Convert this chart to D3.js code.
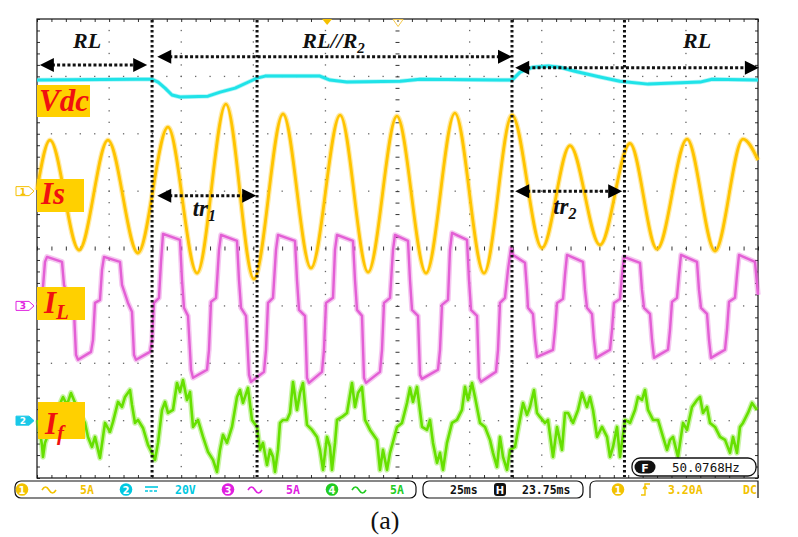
<!DOCTYPE html>
<html><head><meta charset="utf-8">
<script src="https://cdn.jsdelivr.net/npm/d3@7"></script>
<style>body{margin:0;background:#fff}svg{display:block}</style>
</head><body><svg id="c" width="798" height="537"></svg>
<script>
// ---- data: time in ms (25 ms/div), values in channel units ----
const timeDomain = [0, 250];
const divDomain = [-4, 4];

// Vdc (CH2, 20 V/div, ground at -3 div)
const vdcData = [[0,118.7],[34.0,119.0],[39.9,119.0],[42.0,118.0],[44.4,115.9],[46.8,113.5],[49.6,112.8],[59.3,113.1],[63.5,114.5],[68.7,115.9],[73.9,118.3],[76.3,119.4],[79.1,120.1],[98.1,120.1],[101.6,118.7],[107.5,118.0],[125.9,118.3],[132.8,119.0],[160.5,118.7],[164.7,118.7],[167.5,121.5],[172.0,123.2],[177.2,123.6],[181.3,123.2],[186.5,121.8],[195.2,119.8],[202.1,118.3],[211.9,117.3],[229.9,118.0],[234.1,119.0],[250,118.7]];

// Is (CH1, 5 A/div, ground at +1 div) - extremes of the source current
const isData = [[0,0.10],[4.5,4.45],[14.6,-5.13],[24.6,4.45],[35.0,-5.39],[45.4,5.58],[55.5,-7.14],[65.5,7.59],[75.2,-7.66],[85.3,6.72],[95.0,-6.71],[105.1,6.63],[114.8,-7.06],[124.8,6.54],[134.9,-7.14],[144.9,6.80],[155.0,-7.14],[164.7,6.63],[175.1,-4.96],[184.8,3.97],[195.2,-4.69],[205.6,4.15],[215.0,-5.05],[225.4,4.54],[235.1,-5.22],[244.8,4.54],[250,2.71]];

// IL (CH3, 5 A/div, ground at -1 div)
const ilData = [[0,0.09],[1.73,0.52],[2.77,3.83],[3.47,4.27],[8.67,3.83],[9.36,1.83],[11.44,0.26],[12.83,-0.52],[13.52,-4.27],[14.22,-4.70],[18.72,-4.01],[19.42,-2.96],[20.11,0.26],[21.84,0.52],[22.54,3.14],[23.23,4.27],[28.78,3.83],[29.47,1.83],[31.55,0.26],[32.94,-0.52],[33.63,-4.27],[34.33,-4.70],[39.18,-4.01],[39.88,-2.96],[40.57,0.26],[42.30,0.70],[43.00,3.83],[43.69,6.27],[49.58,5.75],[50.28,2.26],[50.97,-0.17],[52.36,-0.87],[53.40,-5.57],[54.09,-6.27],[58.95,-5.57],[59.64,-3.83],[60.33,0.35],[62.07,0.70],[63.11,4.88],[63.80,6.18],[69.35,5.66],[70.04,2.26],[70.74,-0.17],[72.47,-0.87],[73.51,-6.01],[74.20,-6.62],[78.71,-5.75],[79.40,-3.83],[80.10,0.26],[81.83,0.70],[82.87,4.88],[83.56,6.18],[89.46,5.66],[90.15,2.26],[90.85,-0.35],[92.93,-0.87],[93.62,-6.27],[94.31,-6.71],[98.82,-5.75],[99.51,-3.83],[100.21,0.26],[102.64,0.70],[103.33,4.88],[104.02,6.18],[109.57,5.66],[110.26,2.26],[110.96,-0.35],[112.69,-0.87],[113.38,-6.27],[114.08,-6.71],[118.93,-5.75],[119.63,-3.83],[120.32,0.26],[122.40,0.70],[123.44,4.88],[124.13,6.18],[128.64,5.66],[129.33,2.26],[130.03,-0.35],[132.11,-0.87],[132.80,-6.01],[133.50,-6.36],[139.04,-5.57],[139.74,-3.83],[140.43,0.09],[142.51,0.52],[143.20,4.88],[143.90,6.36],[149.10,5.75],[149.79,2.26],[150.49,-0.35],[152.57,-0.87],[153.26,-6.27],[153.95,-6.62],[159.15,-5.75],[159.85,-3.83],[160.54,0.26],[162.27,0.70],[163.31,3.14],[164.36,5.05],[165.05,4.44],[169.21,3.75],[169.90,1.39],[170.25,-0.17],[171.98,-0.70],[172.68,-2.96],[173.37,-4.44],[178.92,-3.83],[179.61,-2.09],[180.31,0.26],[182.39,0.61],[183.08,2.70],[183.77,4.44],[189.32,3.83],[190.01,1.39],[190.71,-0.17],[192.44,-0.70],[193.13,-2.96],[193.83,-4.53],[198.68,-3.83],[199.38,-2.09],[200.07,0.26],[202.15,0.61],[202.84,2.70],[203.54,4.27],[209.08,3.75],[209.78,1.39],[210.47,-0.17],[212.55,-0.70],[213.25,-2.96],[213.94,-4.53],[218.79,-3.83],[219.49,-2.09],[220.18,0.35],[221.91,0.70],[222.61,2.70],[223.30,4.44],[228.85,3.83],[229.54,1.39],[230.24,-0.17],[232.32,-0.70],[233.01,-2.96],[233.70,-4.53],[238.56,-3.83],[239.25,-2.09],[239.94,0.35],[242.02,0.70],[242.72,2.70],[243.41,4.44],[248.96,3.83],[250.0,0.96]];

// If (CH4, 5 A/div, ground at -3 div)
const ifData = [[0.35,0.06],[1.73,-2.12],[2.08,-3.16],[2.77,-1.94],[4.51,-0.81],[6.24,0.50],[9.02,2.06],[10.40,1.37],[11.79,2.41],[14.22,0.93],[16.64,-0.20],[17.68,-1.42],[19.07,-2.29],[20.11,-1.42],[21.84,-3.25],[22.88,-1.42],[23.58,-0.20],[25.31,-0.98],[26.35,-0.11],[28.09,1.63],[29.47,1.19],[30.51,2.06],[32.25,2.67],[32.94,1.37],[33.98,-0.20],[35.02,0.06],[36.75,-0.64],[38.49,-2.12],[39.88,-2.81],[40.92,-3.42],[41.96,-1.94],[43.34,0.93],[44.38,1.63],[45.42,0.67],[47.16,0.93],[48.54,3.28],[49.58,2.50],[50.62,3.54],[52.01,1.80],[53.05,2.50],[54.09,-0.55],[55.82,0.06],[57.56,-1.42],[59.29,-2.72],[61.03,-3.42],[62.41,-4.47],[63.45,-2.55],[64.49,-1.24],[65.88,-1.94],[67.61,-0.55],[69.35,2.06],[70.39,2.67],[71.43,1.54],[73.16,2.85],[74.55,0.06],[76.28,-0.55],[77.32,-2.55],[78.36,-1.94],[79.75,-3.86],[80.79,-2.55],[81.83,-3.16],[82.52,-4.47],[83.56,-2.55],[84.26,-0.20],[85.30,0.06],[86.68,0.06],[87.72,0.67],[88.77,3.37],[90.15,0.93],[91.19,2.41],[92.23,3.28],[93.62,-0.37],[95.35,-0.81],[97.09,-1.42],[98.13,-2.55],[99.17,-4.29],[100.55,-1.42],[101.59,-2.29],[102.29,-4.29],[103.33,-1.94],[104.02,0.06],[105.76,0.32],[107.49,0.67],[109.22,3.28],[110.26,1.19],[111.30,2.41],[112.69,2.94],[113.73,0.06],[115.47,-0.81],[117.89,-1.68],[118.93,-4.29],[119.97,-2.55],[121.36,-4.29],[122.40,-2.81],[123.44,-1.86],[124.83,-0.55],[126.56,-0.20],[128.30,1.54],[129.33,2.85],[130.37,1.63],[131.76,2.94],[133.50,-0.55],[135.23,-0.81],[136.27,0.06],[137.31,-1.94],[138.70,-3.68],[139.74,-2.81],[140.78,-4.29],[142.16,-1.94],[143.90,-0.20],[145.63,0.06],[147.36,0.93],[148.40,2.94],[149.44,1.80],[150.83,3.28],[151.87,2.06],[153.61,-0.20],[155.34,-0.55],[157.07,-1.68],[158.11,-2.81],[159.50,-4.03],[160.54,-1.42],[161.58,-3.16],[162.97,-4.29],[164.01,-2.55],[165.74,-2.29],[166.78,-0.81],[168.52,1.54],[169.90,0.50],[170.94,1.19],[172.33,2.67],[173.37,0.67],[174.41,0.32],[176.14,-0.20],[177.18,0.06],[178.92,-3.16],[180.31,-0.55],[182.04,-2.55],[183.08,0.67],[184.12,0.67],[185.85,-0.20],[187.59,0.93],[188.97,2.41],[190.71,1.19],[191.75,2.06],[192.79,0.93],[194.18,-1.42],[195.91,-0.55],[197.64,-1.42],[198.68,-3.16],[199.72,-2.29],[201.11,-0.55],[202.15,-3.16],[203.88,0.06],[205.62,-0.20],[207.35,0.93],[208.39,2.06],[209.78,1.80],[210.82,2.67],[211.86,0.93],[213.59,0.06],[215.33,0.06],[217.06,-1.42],[218.45,-2.55],[219.49,-1.68],[220.53,-1.42],[222.26,-3.16],[224.00,-0.20],[225.38,-0.81],[227.12,1.19],[228.85,1.80],[229.89,2.06],[230.93,0.67],[232.32,1.19],[233.36,-0.20],[235.09,-0.55],[236.83,-1.42],[238.57,-1.68],[240.29,-2.81],[241.33,-1.42],[242.72,-2.81],[243.76,-0.55],[244.80,-0.20],[246.53,0.67],[247.92,1.54],[249.65,0.93]];

// annotation data
const eventTimes = [39.9, 76.3, 164.7, 203.7];          // dotted vertical markers (ms)
const regionLabels = [{text:"RL", t:12.5}, {text:"RL//R", sub:"2", t:92}, {text:"RL", t:224}];
const spanArrows = [{t0:1.0, t1:38.2, y:3.2}, {t0:41.7, t1:164.7, y:3.34}, {t0:165.8, t1:250.3, y:3.15}];
const trArrows = [{t0:41.7, t1:76.0, div:0.92, label:"tr", sub:"1", lt:54.0, ly:0.56},
                  {t0:165.8, t1:202.9, div:1.0, label:"tr", sub:"2", lt:179.0, ly:0.61}];
const statusItems1 = [
  {ch:"1", col:"#F2C200", cpl:"ac", scale:"5A"},
  {ch:"2", col:"#00C8E0", cpl:"dc", scale:"20V"},
  {ch:"3", col:"#E020E0", cpl:"ac", scale:"5A"},
  {ch:"4", col:"#22CC22", cpl:"ac", scale:"5A"}];
const timebase = "25ms", hpos = "23.75ms", trigLevel = "3.20A", trigCpl = "DC", freq = "50.0768Hz";

// ---- drawing ----
const svg = d3.select("#c");
const L = 37, R = 758, T = 19, B = 478;
const x = d3.scaleLinear().domain(timeDomain).range([L, R]);
const yDiv = d3.scaleLinear().domain(divDomain).range([B, T]);
const chY = {
  is: v => yDiv(1 + v / 5),
  il: v => yDiv(-1 + v / 5),
  iff: v => yDiv(-3 + v / 5),
  vdc: v => yDiv(-3 + v / 20)
};

// grid dots
const g = svg.append("g");
const minorT = d3.range(0, 250.01, 5);
const minorD = d3.range(-4, 4.001, 0.2);
for (let k = 1; k < 10; k++) {
  if (k === 5) continue;
  g.selectAll(null).data(minorD.slice(1, -1)).enter().append("rect")
    .attr("x", x(k * 25) - 0.6).attr("y", d => yDiv(d) - 0.6).attr("width", 1.3).attr("height", 1.3).attr("fill", "#666");
}
for (let k = -3; k <= 3; k++) {
  if (k === 0) continue;
  g.selectAll(null).data(minorT.slice(1, -1)).enter().append("rect")
    .attr("x", d => x(d) - 0.6).attr("y", yDiv(k) - 0.6).attr("width", 1.3).attr("height", 1.3).attr("fill", "#666");
}
// frame ticks via axes
const tickStyle = sel => { sel.select(".domain").remove(); sel.selectAll("line").attr("stroke", "#333"); };
g.append("g").attr("transform", `translate(0,${T})`).call(d3.axisBottom(x).tickValues(minorT).tickSize(3).tickFormat("")).call(tickStyle);
g.append("g").attr("transform", `translate(0,${B})`).call(d3.axisTop(x).tickValues(minorT).tickSize(3).tickFormat("")).call(tickStyle);
g.append("g").attr("transform", `translate(${L},0)`).call(d3.axisRight(yDiv).tickValues(minorD).tickSize(3).tickFormat("")).call(tickStyle);
g.append("g").attr("transform", `translate(${R},0)`).call(d3.axisLeft(yDiv).tickValues(minorD).tickSize(3).tickFormat("")).call(tickStyle);
// center cross ticks
g.append("g").attr("transform", `translate(0,${yDiv(0) - 2})`).call(d3.axisBottom(x).tickValues(minorT).tickSize(4).tickFormat("")).call(tickStyle);
g.append("g").attr("transform", `translate(${x(125) - 2},0)`).call(d3.axisRight(yDiv).tickValues(minorD).tickSize(4).tickFormat("")).call(tickStyle);
g.append("rect").attr("x", L).attr("y", T).attr("width", R - L).attr("height", B - T).attr("fill", "none").attr("stroke", "#111").attr("stroke-width", 1.2);

// traces
const traces = svg.append("g");
const mk = (fy, curve) => d3.line().x(d => x(d[0])).y(d => fy(d[1])).curve(curve);
function trace(data, fy, curve, col, w, hw) {
  traces.append("path").attr("d", mk(fy, curve)(data)).attr("fill", "none").attr("stroke", col)
    .attr("stroke-width", w + hw).attr("stroke-opacity", 0.35).attr("stroke-linejoin", "round");
  traces.append("path").attr("d", mk(fy, curve)(data)).attr("fill", "none").attr("stroke", col)
    .attr("stroke-width", w).attr("stroke-linejoin", "round");
}
trace(ifData, chY.iff, d3.curveLinear, "#66E000", 2.6, 3);
trace(ilData, chY.il, d3.curveLinear, "#E35FD5", 2.4, 3);
trace(isData, chY.is, d3.curveMonotoneX, "#FFC400", 2.8, 2.5);
trace(vdcData, chY.vdc, d3.curveLinear, "#1FE3E8", 3, 1.5);

// top trigger markers
svg.append("path").attr("d", `M${x(100.6)-5},${T} h10 l-5,6 z`).attr("fill", "#F5C000");
svg.append("path").attr("d", `M${x(125.2)-5},${T+0.5} h10 l-5,7 z`).attr("fill", "none").attr("stroke", "#F5C84A").attr("stroke-width", 1);

// channel markers
function chMarker(yc, col, filled, label) {
  svg.append("path").attr("d", `M16,${yc-4.5} H29 L34,${yc} L29,${yc+4.5} H16 Z`)
    .attr("fill", filled ? col : "#fff").attr("stroke", col).attr("stroke-width", 1);
  svg.append("text").attr("x", 23).attr("y", yc + 3.5).attr("text-anchor", "middle")
    .attr("font-family", "DejaVu Sans").attr("font-size", 9).attr("font-weight", "bold")
    .attr("fill", filled ? "#fff" : col).text(label);
}
chMarker(chY.is(0), "#F5C000", false, "1");
chMarker(chY.il(0), "#E020E0", false, "3");
chMarker(chY.iff(0), "#19C8E8", true, "2");

// signal labels
const serif = "Liberation Serif";
function sigLabel(x0, y0, w, h, main, sub, bx, by) {
  svg.append("rect").attr("x", x0).attr("y", y0).attr("width", w).attr("height", h).attr("fill", "#FFD000");
  const t = svg.append("text").attr("x", bx).attr("y", by).attr("font-family", serif).attr("font-style", "italic")
    .attr("font-weight", "bold").attr("font-size", 31).attr("fill", "#F01010");
  t.append("tspan").text(main);
  if (sub) t.append("tspan").attr("font-size", 21).attr("dy", 6).text(sub);
}
sigLabel(37, 85, 53, 32, "Vdc", null, 39, 111);
sigLabel(37, 179, 47, 33, "Is", null, 41, 204);
sigLabel(37, 287, 48, 33, "I", "L", 44, 313);
sigLabel(38, 402, 47, 37, "I", "f", 45, 434);

// dotted event lines
const ann = svg.append("g");
ann.selectAll(null).data(eventTimes).enter().append("line")
  .attr("x1", d => x(d)).attr("x2", d => x(d)).attr("y1", T + 1).attr("y2", B - 1)
  .attr("stroke", "#111").attr("stroke-width", 3).attr("stroke-dasharray", "2.6,2.4");

function dArrow(x0, x1, y) {
  ann.append("line").attr("x1", x0 + 12).attr("x2", x1 - 12).attr("y1", y).attr("y2", y)
    .attr("stroke", "#111").attr("stroke-width", 3).attr("stroke-dasharray", "3,2.2");
  ann.append("path").attr("d", `M${x0},${y} l14,-7 v14 z`).attr("fill", "#000");
  ann.append("path").attr("d", `M${x1},${y} l-14,-7 v14 z`).attr("fill", "#000");
}
spanArrows.forEach(a => dArrow(x(a.t0), x(a.t1), yDiv(a.y)));
trArrows.forEach(a => {
  dArrow(x(a.t0), x(a.t1), yDiv(a.div));
  const t = ann.append("text").attr("x", x(a.lt)).attr("y", yDiv(a.ly)).attr("font-family", serif)
    .attr("font-style", "italic").attr("font-weight", "bold").attr("font-size", 23).attr("fill", "#111");
  t.append("tspan").text(a.label);
  t.append("tspan").attr("font-size", 16).attr("dy", 5).text(a.sub);
});
regionLabels.forEach(r => {
  const t = ann.append("text").attr("x", x(r.t)).attr("y", 48).attr("font-family", serif)
    .attr("font-style", "italic").attr("font-weight", "bold").attr("font-size", 22).attr("fill", "#111");
  t.append("tspan").text(r.text);
  if (r.sub) t.append("tspan").attr("font-size", 15).attr("dy", 5).text(r.sub);
});

// frequency readout
const fb = svg.append("g");
fb.append("rect").attr("x", 632).attr("y", 458).attr("width", 124).attr("height", 18).attr("rx", 8)
  .attr("fill", "#fff").attr("stroke", "#111").attr("stroke-width", 1.3);
fb.append("rect").attr("x", 634.5).attr("y", 460.5).attr("width", 21).attr("height", 13).attr("rx", 6.5).attr("fill", "#111");
fb.append("text").attr("x", 645).attr("y", 471.5).attr("text-anchor", "middle").attr("font-family", "DejaVu Sans")
  .attr("font-weight", "bold").attr("font-size", 11).attr("fill", "#fff").text("F");
fb.append("text").attr("x", 672).attr("y", 472).attr("font-family", "DejaVu Sans Mono").attr("font-size", 12.5)
  .attr("fill", "#111").text(freq);

// status bar
const sb = svg.append("g");
sb.append("rect").attr("x", 15).attr("y", 481).attr("width", 401).attr("height", 17).attr("rx", 6)
  .attr("fill", "none").attr("stroke", "#111").attr("stroke-width", 1.2);
sb.append("rect").attr("x", 423).attr("y", 481).attr("width", 160).attr("height", 17).attr("rx", 6)
  .attr("fill", "none").attr("stroke", "#111").attr("stroke-width", 1.2);
sb.append("path").attr("d", "M590,498 V487 Q590,481 596,481 H758 V498").attr("fill", "none").attr("stroke", "#111").attr("stroke-width", 1.2);
const mono = "DejaVu Sans Mono";
function circNum(cx, col, n) {
  sb.append("circle").attr("cx", cx).attr("cy", 489.5).attr("r", 6.3).attr("fill", col);
  sb.append("text").attr("x", cx).attr("y", 493.5).attr("text-anchor", "middle").attr("font-family", "DejaVu Sans")
    .attr("font-weight", "bold").attr("font-size", 10).attr("fill", "#fff").text(n);
}
const chX = [22, 126, 228, 332];
statusItems1.forEach((s, i) => {
  const cx = chX[i];
  circNum(cx, s.col, s.ch);
  if (s.cpl === "ac") {
    sb.append("path").attr("d", `M${cx+20},${490} q3.5,-6 7,0 t7,0`).attr("fill", "none").attr("stroke", s.col).attr("stroke-width", 1.6);
  } else {
    sb.append("line").attr("x1", cx + 19).attr("x2", cx + 32).attr("y1", 487).attr("y2", 487).attr("stroke", s.col).attr("stroke-width", 1.6);
    sb.append("line").attr("x1", cx + 19).attr("x2", cx + 32).attr("y1", 491).attr("y2", 491).attr("stroke", s.col).attr("stroke-width", 1.6).attr("stroke-dasharray", "3,1.5");
  }
  sb.append("text").attr("x", cx + (s.scale.length > 2 ? 49 : 58)).attr("y", 494).attr("font-family", mono)
    .attr("font-weight", "bold").attr("font-size", 11.5).attr("fill", s.col).text(s.scale);
});
sb.append("text").attr("x", 450).attr("y", 494).attr("font-family", mono).attr("font-size", 11.5).attr("font-weight", "bold").attr("fill", "#111").text(timebase);
sb.append("rect").attr("x", 494).attr("y", 483).attr("width", 12).attr("height", 13).attr("rx", 3).attr("fill", "#111");
sb.append("text").attr("x", 500).attr("y", 493.5).attr("text-anchor", "middle").attr("font-family", "DejaVu Sans").attr("font-weight", "bold").attr("font-size", 10).attr("fill", "#fff").text("H");
sb.append("text").attr("x", 522).attr("y", 494).attr("font-family", mono).attr("font-size", 11.5).attr("font-weight", "bold").attr("fill", "#111").text(hpos);
circNum(618, "#F2C200", "1");
sb.append("path").attr("d", "M641,495 h4 v-11 h5 M643,489 l2,-3 l2,3").attr("fill", "none").attr("stroke", "#F2C200").attr("stroke-width", 1.4);
sb.append("text").attr("x", 668).attr("y", 494).attr("font-family", mono).attr("font-size", 11.5).attr("font-weight", "bold").attr("fill", "#F2C200").text(trigLevel);
sb.append("text").attr("x", 743).attr("y", 494).attr("font-family", mono).attr("font-size", 11.5).attr("font-weight", "bold").attr("fill", "#F2C200").text(trigCpl);

// caption
svg.append("text").attr("x", 385).attr("y", 529).attr("text-anchor", "middle").attr("font-family", serif)
  .attr("font-size", 26).attr("fill", "#111").text("(a)");
</script></body></html>
